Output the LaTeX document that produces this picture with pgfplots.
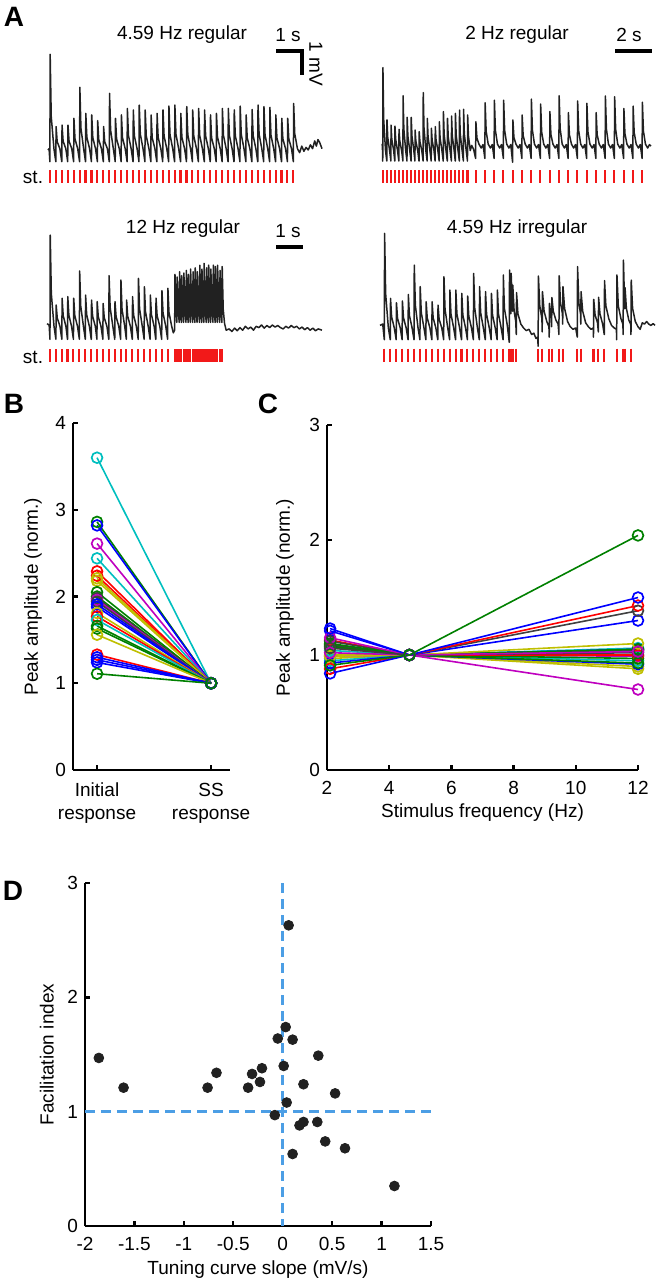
\documentclass[border=0pt]{standalone}
\usepackage{fontspec}
\setmainfont{Liberation Sans}
\usepackage{pgfplots}
\pgfplotsset{compat=1.18}

\definecolor{mlb}{rgb}{0,0,1}
\definecolor{mlg}{rgb}{0,0.5,0}
\definecolor{mlr}{rgb}{1,0,0}
\definecolor{mlc}{rgb}{0,0.75,0.75}
\definecolor{mlm}{rgb}{0.75,0,0.75}
\definecolor{mly}{rgb}{0.75,0.75,0}
\definecolor{mlk}{rgb}{0.25,0.25,0.25}
\definecolor{stimred}{rgb}{0.95,0.1,0.1}
\definecolor{dashblue}{rgb}{0.3,0.62,0.9}
\definecolor{dotgray}{rgb}{0.13,0.13,0.13}
\definecolor{tracegray}{rgb}{0.13,0.13,0.13}

\newcommand{\lbl}{\fontsize{9.5}{11}\selectfont}
\newcommand{\pl}{\fontsize{14}{16}\selectfont\bfseries}

\pgfplotsset{
  trace/.style={hide axis, scale only axis, clip=false, height=67.6pt,
    ymin=-1.4, ymax=3.8, xmin=0, anchor=south west},
  sig/.style={tracegray, line width=0.75pt, no markers, line join=round},
  stim/.style={stimred, only marks, mark=|, mark size=3.25pt,
    mark options={line width=1.05pt, draw=stimred}},
  mat/.style={scale only axis, anchor=south west, clip=false,
    axis x line*=bottom, axis y line*=left,
    axis line style={line width=1.2pt, -},
    tick align=inside, major tick length=2.6pt,
    tick style={line width=1.2pt, black},
    ticklabel style={font=\lbl}, label style={font=\lbl},
    xticklabel style={yshift=-2pt}},
  cell/.style={line width=0.8pt, mark=o, mark size=2.7pt,
    mark options={fill=white, line width=0.85pt}},
}

\begin{document}
\begin{tikzpicture}
% canvas: 657 x 1280 px at 0.5pt per px, origin top left, y downward negative
\useasboundingbox (0pt,0pt) rectangle (328.5pt,-640pt);

% ---------------- A: 4.59 Hz regular
\begin{axis}[trace, at={(24pt,-93.2pt)}, width=137pt, xmax=10.15]
\addplot[sig] coordinates {
(0,0.0)(0.04,0.05)
(0.07,-0.45)(0.08,3.68)(0.12,1.29)(0.22,0.05)
(0.29,-0.45)(0.30,0.90)(0.34,0.32)(0.44,0.05)
(0.51,-0.45)(0.52,0.96)(0.56,0.34)(0.66,0.05)
(0.73,-0.45)(0.74,0.96)(0.78,0.34)(0.88,0.05)
(0.95,-0.45)(0.96,1.22)(1.00,0.43)(1.10,0.05)
(1.17,-0.45)(1.18,2.41)(1.22,0.84)(1.32,0.05)
(1.39,-0.45)(1.40,1.41)(1.44,0.49)(1.54,0.05)
(1.61,-0.45)(1.62,1.35)(1.66,0.47)(1.76,0.05)
(1.83,-0.45)(1.84,1.13)(1.88,0.40)(1.98,0.05)
(2.05,-0.45)(2.06,0.90)(2.10,0.32)(2.20,0.05)
(2.27,-0.45)(2.28,2.18)(2.32,0.76)(2.42,0.05)
(2.49,-0.45)(2.50,1.22)(2.54,0.43)(2.64,0.05)
(2.71,-0.45)(2.72,1.35)(2.76,0.47)(2.86,0.05)
(2.93,-0.45)(2.94,1.60)(2.98,0.56)(3.08,0.05)
(3.15,-0.45)(3.16,1.54)(3.20,0.54)(3.30,0.05)
(3.37,-0.45)(3.38,1.73)(3.42,0.61)(3.52,0.05)
(3.59,-0.45)(3.60,1.54)(3.64,0.54)(3.74,0.05)
(3.81,-0.45)(3.82,1.35)(3.86,0.47)(3.96,0.05)
(4.03,-0.45)(4.04,1.41)(4.08,0.49)(4.18,0.05)
(4.25,-0.45)(4.26,1.54)(4.30,0.54)(4.40,0.05)
(4.47,-0.45)(4.48,1.69)(4.52,0.59)(4.62,0.05)
(4.69,-0.45)(4.70,1.73)(4.74,0.61)(4.84,0.05)
(4.91,-0.45)(4.92,1.41)(4.96,0.49)(5.06,0.05)
(5.13,-0.45)(5.14,1.67)(5.18,0.58)(5.28,0.05)
(5.35,-0.45)(5.36,1.54)(5.40,0.54)(5.50,0.05)
(5.57,-0.45)(5.58,1.60)(5.62,0.56)(5.72,0.05)
(5.79,-0.45)(5.80,1.54)(5.84,0.54)(5.94,0.05)
(6.01,-0.45)(6.02,1.35)(6.06,0.47)(6.16,0.05)
(6.23,-0.45)(6.24,1.41)(6.28,0.49)(6.38,0.05)
(6.45,-0.45)(6.46,1.60)(6.50,0.56)(6.60,0.05)
(6.67,-0.45)(6.68,1.60)(6.72,0.56)(6.82,0.05)
(6.89,-0.45)(6.90,1.54)(6.94,0.54)(7.04,0.05)
(7.11,-0.45)(7.12,1.69)(7.16,0.59)(7.26,0.05)
(7.33,-0.45)(7.34,1.35)(7.38,0.47)(7.48,0.05)
(7.55,-0.45)(7.56,1.56)(7.60,0.55)(7.70,0.05)
(7.77,-0.45)(7.78,1.73)(7.82,0.61)(7.92,0.05)
(7.99,-0.45)(8.00,1.67)(8.04,0.58)(8.14,0.05)
(8.21,-0.45)(8.22,1.64)(8.26,0.57)(8.36,0.05)
(8.43,-0.45)(8.44,1.35)(8.48,0.47)(8.58,0.05)
(8.65,-0.45)(8.66,1.22)(8.70,0.43)(8.80,0.05)
(8.87,-0.45)(8.88,1.22)(8.92,0.43)(9.02,0.05)
(9.09,-0.45)(9.10,1.79)(9.14,0.63)(9.24,0.05)
(9.32,-0.1)(9.40,0.15)(9.48,-0.05)(9.56,0.1)(9.64,0.0)(9.72,0.2)(9.80,0.05)
(9.88,0.35)(9.94,0.15)(10.0,0.4)(10.06,0.3)(10.15,0.05)
};
\addplot[stim] coordinates {
(0.07,-1.03)(0.29,-1.03)(0.51,-1.03)(0.73,-1.03)(0.95,-1.03)(1.17,-1.03)
(1.39,-1.03)(1.61,-1.03)(1.83,-1.03)(2.05,-1.03)(2.27,-1.03)(2.49,-1.03)
(2.71,-1.03)(2.93,-1.03)(3.15,-1.03)(3.37,-1.03)(3.59,-1.03)(3.81,-1.03)
(4.03,-1.03)(4.25,-1.03)(4.47,-1.03)(4.69,-1.03)(4.91,-1.03)(5.13,-1.03)
(5.35,-1.03)(5.57,-1.03)(5.79,-1.03)(6.01,-1.03)(6.23,-1.03)(6.45,-1.03)
(6.67,-1.03)(6.89,-1.03)(7.11,-1.03)(7.33,-1.03)(7.55,-1.03)(7.77,-1.03)
(7.99,-1.03)(8.21,-1.03)(8.43,-1.03)(8.65,-1.03)(8.87,-1.03)(9.09,-1.03)
};
\end{axis}

% ---------------- A: 2 Hz regular
\begin{axis}[trace, at={(191pt,-91.55pt)}, width=134.5pt, xmax=14.54]
\addplot[sig] coordinates {
(0,0.05)(0.02,0.1)
(0.04,-0.55)(0.05,3.04)(0.09,1.06)(0.19,-0.15)
(0.26,-0.55)(0.27,1.03)(0.31,0.36)(0.41,-0.15)
(0.48,-0.55)(0.49,0.83)(0.53,0.29)(0.63,-0.15)
(0.69,-0.55)(0.70,0.79)(0.74,0.28)(0.84,-0.15)
(0.91,-0.55)(0.92,0.67)(0.96,0.23)(1.06,-0.15)
(1.13,-0.55)(1.14,1.96)(1.18,0.69)(1.28,-0.15)
(1.35,-0.55)(1.36,1.13)(1.40,0.40)(1.50,-0.15)
(1.57,-0.55)(1.58,1.13)(1.62,0.40)(1.72,-0.15)
(1.78,-0.55)(1.79,0.64)(1.83,0.22)(1.93,-0.15)
(2.00,-0.55)(2.01,0.58)(2.05,0.20)(2.15,-0.15)
(2.22,-0.55)(2.23,2.08)(2.27,0.73)(2.37,-0.15)
(2.44,-0.55)(2.45,1.09)(2.49,0.38)(2.59,-0.15)
(2.66,-0.55)(2.67,0.71)(2.71,0.25)(2.81,-0.15)
(2.87,-0.55)(2.88,0.77)(2.92,0.27)(3.02,-0.15)
(3.09,-0.55)(3.10,0.96)(3.14,0.34)(3.24,-0.15)
(3.31,-0.55)(3.32,1.35)(3.36,0.47)(3.46,-0.15)
(3.53,-0.55)(3.54,1.09)(3.58,0.38)(3.68,-0.15)
(3.75,-0.55)(3.76,1.18)(3.80,0.41)(3.90,-0.15)
(3.96,-0.55)(3.97,1.28)(4.01,0.45)(4.11,-0.15)
(4.18,-0.55)(4.19,1.41)(4.23,0.49)(4.33,-0.15)
(4.40,-0.55)(4.41,1.44)(4.45,0.50)(4.55,-0.15)
(4.62,-0.55)(4.63,1.22)(4.67,0.43)(4.77,-0.15)
(4.85,0.05)(4.95,-0.1)
(5.06,-0.45)(5.075,0.96)(5.13,0.34)(5.24,0.1)(5.36,-0.05)(5.46,0.08)
(5.56,-0.45)(5.575,1.69)(5.63,0.59)(5.74,0.1)(5.86,-0.05)(5.96,0.08)
(6.06,-0.45)(6.075,1.79)(6.13,0.63)(6.24,0.1)(6.36,-0.05)(6.46,0.08)
(6.56,-0.45)(6.575,1.79)(6.63,0.63)(6.74,0.1)(6.86,-0.05)(6.96,0.08)
(7.06,-0.6)(7.075,1.03)(7.13,0.36)(7.24,0.1)(7.36,-0.05)(7.46,0.08)
(7.56,-0.45)(7.575,1.22)(7.63,0.43)(7.74,0.1)(7.86,-0.05)(7.96,0.08)
(8.06,-0.45)(8.075,1.83)(8.13,0.64)(8.24,0.1)(8.36,-0.05)(8.46,0.08)
(8.56,-0.45)(8.575,1.64)(8.63,0.57)(8.74,0.1)(8.86,-0.05)(8.96,0.08)
(9.06,-0.45)(9.075,1.35)(9.13,0.47)(9.24,0.1)(9.36,-0.05)(9.46,0.08)
(9.56,-0.45)(9.575,1.96)(9.63,0.69)(9.74,0.1)(9.86,-0.05)(9.96,0.08)
(10.06,-0.45)(10.075,1.31)(10.13,0.46)(10.24,0.1)(10.36,-0.05)(10.46,0.08)
(10.56,-0.45)(10.575,1.76)(10.63,0.62)(10.74,0.1)(10.86,-0.05)(10.96,0.08)
(11.06,-0.45)(11.075,1.67)(11.13,0.58)(11.24,0.1)(11.36,-0.05)(11.46,0.08)
(11.56,-0.45)(11.575,1.31)(11.63,0.46)(11.74,0.1)(11.86,-0.05)(11.96,0.08)
(12.06,-0.45)(12.075,1.95)(12.13,0.68)(12.24,0.1)(12.36,-0.05)(12.46,0.08)
(12.56,-0.45)(12.575,1.92)(12.63,0.67)(12.74,0.1)(12.86,-0.05)(12.96,0.08)
(13.06,-0.45)(13.075,1.47)(13.13,0.51)(13.24,0.1)(13.36,-0.05)(13.46,0.08)
(13.56,-0.45)(13.575,1.56)(13.63,0.55)(13.74,0.1)(13.86,-0.05)(13.96,0.08)
(14.06,-0.45)(14.075,1.71)(14.13,0.60)(14.24,0.1)(14.36,-0.05)(14.46,0.08)(14.54,0.02)
};
\addplot[stim] coordinates {
(0.04,-1.15)(0.26,-1.15)(0.48,-1.15)(0.69,-1.15)(0.91,-1.15)(1.13,-1.15)
(1.35,-1.15)(1.57,-1.15)(1.78,-1.15)(2.00,-1.15)(2.22,-1.15)(2.44,-1.15)
(2.66,-1.15)(2.87,-1.15)(3.09,-1.15)(3.31,-1.15)(3.53,-1.15)(3.75,-1.15)
(3.96,-1.15)(4.18,-1.15)(4.40,-1.15)(4.62,-1.15)
(5.06,-1.15)(5.56,-1.15)(6.06,-1.15)(6.56,-1.15)(7.06,-1.15)(7.56,-1.15)
(8.06,-1.15)(8.56,-1.15)(9.06,-1.15)(9.56,-1.15)(10.06,-1.15)(10.56,-1.15)
(11.06,-1.15)(11.56,-1.15)(12.06,-1.15)(12.56,-1.15)(13.06,-1.15)(13.56,-1.15)
(14.06,-1.15)
};
\end{axis}

% ---------------- A: 12 Hz regular
\begin{axis}[trace, at={(23.5pt,-180.7pt)}, width=137.5pt, xmax=10.19]
\addplot[sig] coordinates {
(0,0.05)(0.08,0.0)
(0.11,-0.55)(0.12,3.46)(0.16,1.21)(0.26,-0.05)
(0.33,-0.55)(0.34,0.77)(0.38,0.27)(0.48,-0.05)
(0.55,-0.55)(0.56,1.03)(0.60,0.36)(0.70,-0.05)
(0.76,-0.55)(0.77,1.09)(0.81,0.38)(0.91,-0.05)
(0.98,-0.55)(0.99,1.03)(1.03,0.36)(1.13,-0.05)
(1.20,-0.55)(1.21,2.08)(1.25,0.73)(1.35,-0.05)
(1.42,-0.55)(1.43,1.15)(1.47,0.40)(1.57,-0.05)
(1.64,-0.55)(1.65,0.96)(1.69,0.34)(1.79,-0.05)
(1.85,-0.55)(1.86,0.90)(1.90,0.32)(2.00,-0.05)
(2.07,-0.55)(2.08,0.83)(2.12,0.29)(2.22,-0.05)
(2.29,-0.55)(2.30,1.90)(2.34,0.67)(2.44,-0.05)
(2.51,-0.55)(2.52,0.90)(2.56,0.32)(2.66,-0.05)
(2.73,-0.55)(2.74,1.73)(2.78,0.61)(2.88,-0.05)
(2.94,-0.55)(2.95,0.96)(2.99,0.34)(3.09,-0.05)
(3.16,-0.55)(3.17,1.09)(3.21,0.38)(3.31,-0.05)
(3.38,-0.55)(3.39,1.79)(3.43,0.63)(3.53,-0.05)
(3.60,-0.55)(3.61,1.47)(3.65,0.51)(3.75,-0.05)
(3.82,-0.55)(3.83,1.15)(3.87,0.40)(3.97,-0.05)
(4.03,-0.55)(4.04,1.03)(4.08,0.36)(4.18,-0.05)
(4.25,-0.55)(4.26,1.32)(4.30,0.46)(4.40,-0.05)
(4.47,-0.55)(4.48,1.41)(4.52,0.49)(4.62,-0.05)
(4.68,-0.3)
(4.73,-0.2)(4.742,1.95)(4.78,0.6)
(4.81,0.1)(4.822,1.85)(4.86,0.6)
(4.90,0.1)(4.912,2.05)(4.95,0.6)
(4.98,0.1)(4.992,1.9)(5.03,0.6)
(5.06,0.1)(5.072,2.0)(5.11,0.6)
(5.15,0.1)(5.162,2.1)(5.20,0.6)
(5.23,0.1)(5.242,1.95)(5.28,0.6)
(5.31,0.1)(5.322,2.15)(5.36,0.6)
(5.40,0.1)(5.412,2.05)(5.45,0.6)
(5.48,0.1)(5.492,2.2)(5.53,0.6)
(5.56,0.1)(5.572,2.05)(5.61,0.6)
(5.65,0.1)(5.662,2.3)(5.70,0.6)
(5.73,0.1)(5.742,2.15)(5.78,0.6)
(5.81,0.1)(5.822,2.37)(5.86,0.6)
(5.90,0.1)(5.912,2.2)(5.95,0.6)
(5.98,0.1)(5.992,2.3)(6.03,0.6)
(6.06,0.1)(6.072,2.15)(6.11,0.6)
(6.15,0.1)(6.162,2.3)(6.20,0.6)
(6.23,0.1)(6.242,2.25)(6.28,0.6)
(6.31,0.1)(6.322,2.3)(6.36,0.6)
(6.40,0.1)(6.412,2.1)(6.45,0.6)
(6.48,0.1)(6.492,2.25)(6.53,0.6)
(6.58,0.05)(6.64,-0.2)
(6.75,-0.15)(6.85,-0.25)(6.95,-0.12)(7.05,-0.22)(7.15,-0.1)(7.25,-0.2)
(7.35,-0.05)(7.45,-0.15)(7.55,-0.08)(7.65,-0.2)(7.75,-0.05)(7.85,-0.1)
(7.95,0.0)(8.05,-0.12)(8.15,-0.02)(8.25,-0.1)(8.35,0.0)(8.45,-0.08)
(8.55,-0.02)(8.65,-0.1)(8.75,-0.15)(8.85,-0.05)(8.95,-0.12)(9.05,-0.02)
(9.15,-0.1)(9.25,-0.05)(9.35,-0.15)(9.45,-0.08)(9.55,-0.18)(9.65,-0.1)
(9.75,-0.2)(9.85,-0.12)(9.95,-0.22)(10.05,-0.15)(10.19,-0.2)
};
\addplot[stim] coordinates {
(0.11,-1.18)(0.33,-1.18)(0.55,-1.18)(0.76,-1.18)(0.98,-1.18)(1.20,-1.18)
(1.42,-1.18)(1.64,-1.18)(1.85,-1.18)(2.07,-1.18)(2.29,-1.18)(2.51,-1.18)
(2.73,-1.18)(2.94,-1.18)(3.16,-1.18)(3.38,-1.18)(3.60,-1.18)(3.82,-1.18)
(4.03,-1.18)(4.25,-1.18)(4.47,-1.18)
(4.73,-1.18)(4.81,-1.18)(4.90,-1.18)(4.98,-1.18)(5.06,-1.18)(5.15,-1.18)
(5.23,-1.18)(5.31,-1.18)(5.40,-1.18)(5.48,-1.18)(5.56,-1.18)(5.65,-1.18)
(5.73,-1.18)(5.81,-1.18)(5.90,-1.18)(5.98,-1.18)(6.06,-1.18)(6.15,-1.18)
(6.23,-1.18)(6.31,-1.18)(6.40,-1.18)(6.48,-1.18)
};
\end{axis}

% ---------------- A: 4.59 Hz irregular
\begin{axis}[trace, at={(190pt,-181.55pt)}, width=137.5pt, xmax=10.19]
\addplot[sig] coordinates {
(0,0.05)(0.1,0.1)
(0.16,-0.5)(0.17,3.59)(0.21,1.26)(0.31,-0.05)
(0.38,-0.5)(0.39,1.09)(0.43,0.38)(0.53,-0.05)
(0.60,-0.5)(0.61,0.92)(0.65,0.32)(0.75,-0.05)
(0.82,-0.5)(0.83,0.99)(0.87,0.35)(0.97,-0.05)
(1.04,-0.5)(1.05,1.24)(1.09,0.43)(1.19,-0.05)
(1.26,-0.5)(1.27,2.37)(1.31,0.83)(1.41,-0.05)
(1.48,-0.5)(1.49,1.54)(1.53,0.54)(1.63,-0.05)
(1.70,-0.5)(1.71,0.96)(1.75,0.34)(1.85,-0.05)
(1.92,-0.5)(1.93,0.96)(1.97,0.34)(2.07,-0.05)
(2.14,-0.5)(2.15,0.83)(2.19,0.29)(2.29,-0.05)
(2.36,-0.5)(2.37,1.92)(2.41,0.67)(2.51,-0.05)
(2.58,-0.5)(2.59,1.41)(2.63,0.49)(2.73,-0.05)
(2.80,-0.5)(2.81,1.41)(2.85,0.49)(2.95,-0.05)
(3.02,-0.5)(3.03,1.28)(3.07,0.45)(3.17,-0.05)
(3.24,-0.5)(3.25,1.18)(3.29,0.41)(3.39,-0.05)
(3.46,-0.5)(3.47,2.05)(3.51,0.72)(3.61,-0.05)
(3.68,-0.5)(3.69,1.54)(3.73,0.54)(3.83,-0.05)
(3.90,-0.5)(3.91,1.35)(3.95,0.47)(4.05,-0.05)
(4.12,-0.5)(4.13,1.28)(4.17,0.45)(4.27,-0.05)
(4.34,-0.5)(4.35,1.41)(4.39,0.49)(4.49,-0.05)
(4.56,-0.5)(4.57,1.99)(4.61,0.70)(4.71,0.1)
(4.79,-0.6)(4.80,2.18)(4.84,0.9)(4.85,0.5)(4.86,2.05)(4.90,0.9)(4.91,0.6)
(4.92,1.6)(4.97,0.6)(5.03,0.2)(5.05,-0.3)(5.06,1.31)(5.11,0.5)(5.22,0.1)
(5.32,-0.05)(5.42,-0.15)(5.52,-0.1)(5.62,-0.3)(5.70,-0.25)(5.78,-0.45)(5.84,-0.4)
(5.86,-0.75)(5.87,1.95)(5.92,0.8)(6.0,0.3)(6.01,-0.2)(6.02,1.35)(6.08,0.6)
(6.18,0.2)(6.26,0.0)(6.27,-0.4)(6.28,0.9)(6.32,0.5)(6.35,0.3)(6.36,0.0)
(6.37,1.12)(6.42,0.6)(6.52,0.25)(6.60,0.1)(6.63,-0.3)(6.64,1.96)(6.69,0.9)
(6.76,0.5)(6.77,0.1)(6.78,1.54)(6.84,0.7)(6.95,0.2)(7.05,0.0)(7.15,-0.1)
(7.25,-0.05)(7.31,-0.4)(7.32,2.31)(7.37,0.9)(7.43,0.5)(7.44,0.1)(7.45,1.35)
(7.51,0.6)(7.62,0.15)(7.72,0.0)(7.82,-0.1)(7.90,-0.05)(7.91,-0.4)(7.92,1.05)
(7.97,0.45)(8.06,0.15)(8.09,-0.2)(8.10,1.13)(8.15,0.5)(8.25,0.1)(8.31,-0.3)
(8.32,1.77)(8.37,0.8)(8.48,0.3)(8.58,0.05)(8.68,-0.05)(8.76,-0.1)(8.77,-0.5)
(8.78,1.99)(8.83,0.8)(8.93,0.3)(9.0,0.1)(9.01,-0.3)(9.02,2.56)(9.06,1.0)
(9.07,0.7)(9.08,1.5)(9.13,0.7)(9.22,0.25)(9.29,0.1)(9.30,-0.3)(9.31,1.79)
(9.36,0.7)(9.46,0.2)(9.56,0.0)(9.64,-0.1)(9.72,0.15)(9.80,0.1)(9.88,0.2)
(9.96,0.1)(10.04,0.05)(10.12,0.12)(10.19,0.05)
};
\addplot[stim] coordinates {
(0.16,-1.09)(0.38,-1.09)(0.60,-1.09)(0.82,-1.09)(1.04,-1.09)(1.26,-1.09)
(1.48,-1.09)(1.70,-1.09)(1.92,-1.09)(2.14,-1.09)(2.36,-1.09)(2.58,-1.09)
(2.80,-1.09)(3.02,-1.09)(3.24,-1.09)(3.46,-1.09)(3.68,-1.09)(3.90,-1.09)
(4.12,-1.09)(4.34,-1.09)(4.56,-1.09)
(4.79,-1.09)(4.85,-1.09)(4.91,-1.09)(5.05,-1.09)
(5.86,-1.09)(6.01,-1.09)(6.27,-1.09)(6.36,-1.09)(6.63,-1.09)(6.77,-1.09)
(7.31,-1.09)(7.44,-1.09)
(7.91,-1.09)(8.09,-1.09)(8.31,-1.09)
(8.77,-1.09)(9.01,-1.09)(9.07,-1.09)(9.30,-1.09)
};
\end{axis}

% ---------------- B
\begin{axis}[mat, at={(36.5pt,-385pt)}, width=78.5pt, height=173.5pt,
  xmin=0.789, xmax=2.166, ymin=0, ymax=4,
  xtick={1,2}, xticklabels={{Initial\\response},{SS\\response}},
  xticklabel style={align=center, font=\fontsize{9.5}{11.5}\selectfont, yshift=-1pt},
  ytick={0,1,2,3,4}, yticklabels={0,1,2,3,4},
  ylabel={Peak amplitude (norm.)},
  ylabel style={at={(axis description cs:-0.255,0.5)}, anchor=center}]
\addplot[cell,mlc] coordinates {(1,3.60)(2,1)};
\addplot[cell,mlg] coordinates {(1,2.86)(2,1)};
\addplot[cell,mlb] coordinates {(1,2.82)(2,1)};
\addplot[cell,mlm] coordinates {(1,2.61)(2,1)};
\addplot[cell,mlc] coordinates {(1,2.44)(2,1)};
\addplot[cell,mlr] coordinates {(1,2.29)(2,1)};
\addplot[cell,mlr] coordinates {(1,2.24)(2,1)};
\addplot[cell,mly] coordinates {(1,2.21)(2,1)};
\addplot[cell,mly] coordinates {(1,2.18)(2,1)};
\addplot[cell,mlg] coordinates {(1,2.05)(2,1)};
\addplot[cell,mlg] coordinates {(1,2.00)(2,1)};
\addplot[cell,mlk] coordinates {(1,1.98)(2,1)};
\addplot[cell,mlm] coordinates {(1,1.96)(2,1)};
\addplot[cell,mlk] coordinates {(1,1.94)(2,1)};
\addplot[cell,mlb] coordinates {(1,1.91)(2,1)};
\addplot[cell,mlb] coordinates {(1,1.88)(2,1)};
\addplot[cell,mly] coordinates {(1,1.81)(2,1)};
\addplot[cell,mlr] coordinates {(1,1.77)(2,1)};
\addplot[cell,mlc] coordinates {(1,1.73)(2,1)};
\addplot[cell,mlg] coordinates {(1,1.66)(2,1)};
\addplot[cell,mlg] coordinates {(1,1.63)(2,1)};
\addplot[cell,mly] coordinates {(1,1.56)(2,1)};
\addplot[cell,mlr] coordinates {(1,1.33)(2,1)};
\addplot[cell,mlb] coordinates {(1,1.30)(2,1)};
\addplot[cell,mlb] coordinates {(1,1.27)(2,1)};
\addplot[cell,mlb] coordinates {(1,1.24)(2,1)};
\addplot[cell,mlg] coordinates {(1,1.11)(2,1)};
\end{axis}

% ---------------- C
\begin{axis}[mat, at={(163.5pt,-385pt)}, width=155.5pt, height=172.5pt,
  xmin=2, xmax=12, ymin=0, ymax=3,
  xtick={2,4,6,8,10,12}, xticklabels={2,4,6,8,10,12},
  ytick={0,1,2,3}, yticklabels={0,1,2,3},
  xlabel={Stimulus frequency (Hz)},
  xlabel style={at={(axis description cs:0.5,-0.122)}, anchor=center},
  ylabel={Peak amplitude (norm.)},
  ylabel style={at={(axis description cs:-0.135,0.5)}, anchor=center}]
\addplot[cell,mly] coordinates {(2.1,0.97)(4.65,1)(12,0.88)};
\addplot[cell,mly] coordinates {(2.1,1.00)(4.65,1)(12,0.90)};
\addplot[cell,mlm] coordinates {(2.1,0.99)(4.65,1)(12,0.99)};
\addplot[cell,mlc] coordinates {(2.1,0.95)(4.65,1)(12,0.95)};
\addplot[cell,mlc] coordinates {(2.1,1.04)(4.65,1)(12,1.06)};
\addplot[cell,mlb] coordinates {(2.1,0.93)(4.65,1)(12,0.92)};
\addplot[cell,mlg] coordinates {(2.1,1.08)(4.65,1)(12,0.97)};
\addplot[cell,mlr] coordinates {(2.1,1.13)(4.65,1)(12,1.00)};
\addplot[cell,mlk] coordinates {(2.1,1.09)(4.65,1)(12,1.02)};
\addplot[cell,mlb] coordinates {(2.1,1.21)(4.65,1)(12,1.05)};
\addplot[cell,mlk] coordinates {(2.1,1.12)(4.65,1)(12,1.04)};
\addplot[cell,mlg] coordinates {(2.1,1.07)(4.65,1)(12,1.05)};
\addplot[cell,mly] coordinates {(2.1,0.99)(4.65,1)(12,1.10)};
\addplot[cell,mlg] coordinates {(2.1,1.10)(4.65,1)(12,0.93)};
\addplot[cell,mlm] coordinates {(2.1,1.02)(4.65,1)(12,1.03)};
\addplot[cell,mlm] coordinates {(2.1,1.15)(4.65,1)(12,0.70)};
\addplot[cell,mlb] coordinates {(2.1,1.23)(4.65,1)(12,1.30)};
\addplot[cell,mlk] coordinates {(2.1,1.06)(4.65,1)(12,1.385)};
\addplot[cell,mlr] coordinates {(2.1,0.88)(4.65,1)(12,1.43)};
\addplot[cell,mlb] coordinates {(2.1,0.84)(4.65,1)(12,1.50)};
\addplot[cell,mlg] coordinates {(2.1,0.91)(4.65,1)(12,2.04)};
\end{axis}

% ---------------- D
\begin{axis}[mat, at={(42.5pt,-613pt)}, width=173pt, height=171.5pt,
  xmin=-2, xmax=1.5, ymin=0, ymax=3,
  xtick={-2,-1.5,-1,-0.5,0,0.5,1,1.5},
  xticklabels={-2,-1.5,-1,-0.5,0,0.5,1,1.5},
  ytick={0,1,2,3}, yticklabels={0,1,2,3},
  xlabel={Tuning curve slope (mV/s)},
  xlabel style={at={(axis description cs:0.5,-0.128)}, anchor=center},
  ylabel={Facilitation index},
  ylabel style={at={(axis description cs:-0.11,0.5)}, anchor=center}]
\addplot[dashblue, line width=1.3pt, dash pattern=on 5pt off 3pt] coordinates {(-2,1)(1.5,1)};
\addplot[dashblue, line width=1.3pt, dash pattern=on 5pt off 3pt] coordinates {(0,3)(0,0)};
\addplot[only marks, mark=*, mark size=2.45pt, dotgray] coordinates {
(-1.86,1.47)(-1.61,1.21)(-0.76,1.21)(-0.67,1.34)(-0.35,1.21)(-0.31,1.33)
(-0.21,1.38)(-0.23,1.26)(-0.05,1.64)(0.03,1.74)(0.06,2.63)(0.10,1.63)
(0.01,1.40)(0.04,1.08)(-0.08,0.97)(0.21,1.24)(0.36,1.49)(0.53,1.16)
(0.17,0.88)(0.21,0.91)(0.35,0.91)(0.43,0.74)(0.63,0.68)(0.10,0.63)
(1.13,0.35)
};
\end{axis}

% annotations, in pixel units of the 657 x 1280 canvas
\begin{scope}[x=0.5pt,y=-0.5pt]
\node[font=\pl] at (14,17) {A};
\node[font=\pl] at (14,404) {B};
\node[font=\pl] at (268,404) {C};
\node[font=\pl] at (13,891) {D};
\node[font=\lbl] at (182,35) {4.59 Hz regular};
\node[font=\lbl] at (517,35) {2 Hz regular};
\node[font=\lbl] at (183,229) {12 Hz regular};
\node[font=\lbl] at (517,229) {4.59 Hz irregular};
\node[font=\lbl] at (33,177) {st.};
\node[font=\lbl] at (33,357) {st.};
\draw[line width=2.4pt, line join=miter] (276,51)--(302,51)--(302,75);
\node[font=\lbl] at (288,35) {1 s};
\node[font=\lbl, rotate=-90] at (316,64) {1 mV};
\draw[line width=2.4pt] (615,51)--(652,51);
\node[font=\lbl] at (629,35) {2 s};
\draw[line width=2.4pt] (276,247)--(303,247);
\node[font=\lbl] at (288,231) {1 s};
\end{scope}
\end{tikzpicture}
\end{document}
